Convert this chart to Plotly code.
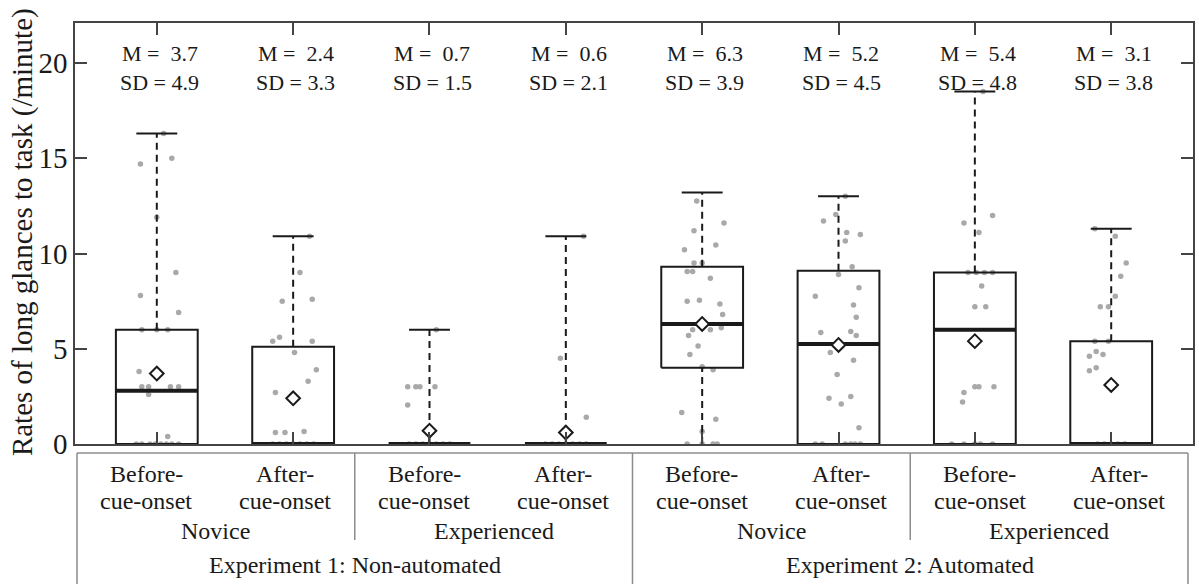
import plotly.graph_objects as go

# ---- data ---------------------------------------------------------------
positions = [1, 2, 3, 4, 5, 6, 7, 8]
phase_top = ["Before-", "After-", "Before-", "After-", "Before-", "After-", "Before-", "After-"]
phase_bottom = ["cue-onset"] * 8
groups = ["Novice", "Experienced", "Novice", "Experienced"]
experiments = ["Experiment 1: Non-automated", "Experiment 2: Automated"]

q1 = [0, 0, 0, 0, 4.0, 0, 0, 0]
medians = [2.8, 0, 0, 0, 6.3, 5.25, 6.0, 0]
q3 = [6.0, 5.1, 0, 0, 9.3, 9.1, 9.0, 5.4]
whisker_lo = [0, 0, 0, 0, 0, 0, 0, 0]
whisker_hi = [16.3, 10.9, 6.0, 10.9, 13.2, 13.0, 18.5, 11.3]
means = [3.7, 2.4, 0.7, 0.6, 6.3, 5.2, 5.4, 3.1]
sds = [4.9, 3.3, 1.5, 2.1, 3.9, 4.5, 4.8, 3.8]

# individual participants: (horizontal jitter, rate)
points = [
    [(-0.12, 7.8), (0.16, 6.9), (-0.11, 6.0), (0.08, 6.0), (0.0, 6.0), (-0.13, 3.8),
     (-0.11, 3.0), (-0.06, 3.0), (-0.06, 2.6), (0.10, 3.0), (0.16, 3.0), (0.08, 0.4),
     (-0.12, 14.7), (0.11, 15.0), (0.14, 9.0), (0.05, 16.3), (0.0, 11.9),
     (-0.15, 0), (-0.11, 0), (-0.05, 0), (-0.01, 0), (0.03, 0), (0.07, 0), (0.11, 0), (0.16, 0)],
    [(-0.08, 7.5), (0.14, 7.6), (-0.15, 5.4), (-0.10, 5.6), (0.14, 5.4), (0.01, 4.8),
     (0.17, 3.9), (0.11, 3.3), (-0.13, 2.7), (-0.13, 0.6), (-0.06, 0.6), (0.08, 0.65),
     (0.05, 9.0), (0.12, 10.9),
     (-0.15, 0), (-0.10, 0), (-0.05, 0), (0.0, 0), (0.05, 0), (0.10, 0), (0.15, 0)],
    [(-0.16, 3.0), (-0.10, 3.0), (-0.07, 3.0), (0.04, 3.0), (-0.16, 2.05), (0.05, 6.0),
     (-0.15, 0), (-0.10, 0), (-0.05, 0), (0.0, 0), (0.05, 0), (0.10, 0), (0.15, 0)],
    [(-0.04, 4.5), (0.15, 1.4), (0.13, 10.9),
     (-0.15, 0), (-0.10, 0), (-0.05, 0), (0.0, 0), (0.05, 0), (0.10, 0), (0.15, 0)],
    [(-0.04, 12.75), (0.16, 11.6), (-0.06, 11.2), (0.10, 10.45), (-0.13, 10.2), (-0.06, 9.5),
     (0.0, 9.5), (-0.11, 9.05), (-0.07, 9.05), (0.06, 8.7), (-0.11, 7.5), (-0.02, 7.55),
     (0.13, 7.35), (0.15, 6.8), (0.06, 6.0), (0.14, 6.1), (-0.07, 6.0), (-0.10, 5.7),
     (-0.03, 5.15), (-0.09, 4.7), (0.0, 4.05), (0.08, 3.9), (-0.15, 1.65), (0.10, 1.3),
     (0.0, 0.65), (-0.11, 0), (0.0, 0), (0.08, 0), (0.11, 0)],
    [(0.05, 13.0), (-0.02, 12.05), (-0.11, 11.7), (0.06, 11.1), (0.16, 11.0), (0.05, 10.65),
     (0.10, 9.3), (0.0, 8.9), (0.15, 8.2), (-0.17, 7.75), (0.11, 7.3), (0.13, 6.65),
     (-0.13, 5.85), (0.09, 5.9), (0.13, 5.7), (-0.06, 4.8), (0.11, 4.4), (-0.01, 3.65),
     (-0.07, 2.4), (0.09, 2.5), (0.02, 2.1), (0.15, 0.85),
     (-0.17, 0), (-0.12, 0), (0.05, 0), (0.09, 0), (0.12, 0), (0.16, 0)],
    [(-0.08, 11.6), (0.13, 12.0), (0.03, 11.1), (-0.05, 9.0), (0.01, 9.0), (0.07, 9.0),
     (0.13, 9.0), (0.05, 8.3), (0.0, 7.2), (0.08, 7.2), (0.0, 3.0), (0.03, 3.0),
     (0.14, 3.0), (-0.08, 2.7), (-0.09, 2.2), (0.06, 18.5),
     (-0.17, 0), (-0.08, 0), (0.0, 0), (0.04, 0), (0.13, 0)],
    [(0.03, 10.9), (0.11, 9.5), (0.07, 8.8), (0.03, 7.75), (-0.08, 7.2), (-0.02, 7.2),
     (-0.12, 5.4), (-0.02, 5.4), (-0.16, 4.6), (-0.11, 4.85), (-0.06, 4.7), (-0.16, 3.85),
     (-0.11, 4.0), (-0.12, 11.3),
     (-0.10, 0), (-0.05, 0), (0.0, 0), (0.05, 0), (0.10, 0)],
]

# ---- style --------------------------------------------------------------
SERIF = "Liberation Serif"
INK = "#1a1a1a"
FRAME = "#444444"
RULE = "#8c8c8c"
BOX_HALF = 0.30
CAP_HALF = 0.15
X_RANGE = [0.4, 8.6]
Y_RANGE = [0, 22.1]

fig = go.Figure()

# jittered participant values
px, py = [], []
for pos, grp in zip(positions, points):
    for off, val in grp:
        px.append(pos + off)
        py.append(val)
fig.add_trace(go.Scatter(x=px, y=py, mode="markers",
                         marker=dict(color="#a9a9a9", size=5.5, line=dict(width=0)),
                         hoverinfo="skip"))

# dashed whiskers
wx, wy = [], []
for pos, lo, a, b, hi in zip(positions, whisker_lo, q1, q3, whisker_hi):
    if hi > b:
        wx += [pos, pos, None]
        wy += [b, hi, None]
    if a > lo:
        wx += [pos, pos, None]
        wy += [lo, a, None]
fig.add_trace(go.Scatter(x=wx, y=wy, mode="lines",
                         line=dict(color=INK, width=2, dash="7px,5px"), hoverinfo="skip"))

# whisker caps
cx, cy = [], []
for pos, hi in zip(positions, whisker_hi):
    cx += [pos - CAP_HALF, pos + CAP_HALF, None]
    cy += [hi, hi, None]
fig.add_trace(go.Scatter(x=cx, y=cy, mode="lines",
                         line=dict(color=INK, width=2), hoverinfo="skip"))

# boxes (inter-quartile range)
bx, by = [], []
for pos, a, b in zip(positions, q1, q3):
    if b > a:
        bx += [pos - BOX_HALF, pos + BOX_HALF, pos + BOX_HALF, pos - BOX_HALF, pos - BOX_HALF, None]
        by += [a, a, b, b, a, None]
fig.add_trace(go.Scatter(x=bx, y=by, mode="lines",
                         line=dict(color=INK, width=2), hoverinfo="skip"))

# medians
mx, my = [], []
for pos, m in zip(positions, medians):
    mx += [pos - BOX_HALF, pos + BOX_HALF, None]
    my += [m, m, None]
fig.add_trace(go.Scatter(x=mx, y=my, mode="lines",
                         line=dict(color=INK, width=4), hoverinfo="skip", cliponaxis=False))

# means
fig.add_trace(go.Scatter(x=positions, y=means, mode="markers",
                         marker=dict(symbol="diamond", size=10.5, color="white",
                                     line=dict(color=INK, width=2)),
                         hoverinfo="skip", cliponaxis=False))

# M / SD labels above each box
lfont = dict(family=SERIF, size=22, color=INK)
annotations = []
for pos, m, s in zip(positions, means, sds):
    annotations.append(dict(x=pos + 0.02, y=20.5, xref="x", yref="y", showarrow=False,
                            xanchor="center", yanchor="middle",
                            text=f"M =\u00a0\u00a0{m:.1f}", font=lfont))
    annotations.append(dict(x=pos + 0.02, y=19.0, xref="x", yref="y", showarrow=False,
                            xanchor="center", yanchor="middle",
                            text=f"SD = {s:.1f}", font=lfont))

# ---- category table under the axis --------------------------------------
T_LEFT, T_RIGHT = 0.0018, 0.9955
T_W = T_RIGHT - T_LEFT


def tcol(frac):
    return T_LEFT + T_W * frac


plot_h = 584 - 23 - 140


def ypix(pix):
    return (444 - pix) / plot_h


shapes = [
    dict(type="line", xref="paper", yref="paper", x0=T_LEFT, x1=T_RIGHT,
         y0=ypix(453), y1=ypix(453), line=dict(color=RULE, width=1.5)),
]
for frac, bottom in [(0, 600), (0.25, 540), (0.5, 600), (0.75, 540), (1.0, 600)]:
    shapes.append(dict(type="line", xref="paper", yref="paper", x0=tcol(frac), x1=tcol(frac),
                       y0=ypix(453), y1=ypix(bottom), line=dict(color=RULE, width=1.5)))

tfont = dict(family=SERIF, size=24, color=INK)


def table_text(xc, ypx, txt):
    return dict(x=xc, y=ypix(ypx), xref="paper", yref="paper", showarrow=False,
                xanchor="center", yanchor="middle", text=txt, font=tfont)


for i in range(8):
    xc = tcol((2 * i + 1) / 16)
    annotations.append(table_text(xc, 474, phase_top[i]))
    annotations.append(table_text(xc, 501, phase_bottom[i]))
for i, g in enumerate(groups):
    annotations.append(table_text(tcol((2 * i + 1) / 8), 531, g))
for i, e in enumerate(experiments):
    annotations.append(table_text(tcol((2 * i + 1) / 4), 565, e))

# y-axis title
annotations.append(dict(x=(22 - 75) / 1120, y=ypix(232), xref="paper", yref="paper",
                        showarrow=False, textangle=-90, xanchor="center", yanchor="middle",
                        text="Rates of long glances to task (/minute)",
                        font=dict(family=SERIF, size=29, color=INK)))

fig.update_layout(
    width=1199, height=584, autosize=False,
    margin=dict(l=75, r=4, t=23, b=140, pad=0),
    paper_bgcolor="white", plot_bgcolor="white",
    showlegend=False,
    shapes=shapes,
    annotations=annotations,
    xaxis=dict(range=X_RANGE, tickvals=positions, showticklabels=False,
               ticks="inside", ticklen=12, tickwidth=1.5, tickcolor=FRAME,
               showline=True, linecolor=FRAME, linewidth=1.5, mirror="ticks",
               showgrid=False, zeroline=False),
    yaxis=dict(range=Y_RANGE, tickvals=[0, 5, 10, 15, 20],
               ticks="inside", ticklen=12, tickwidth=1.5, tickcolor=FRAME,
               showline=True, linecolor=FRAME, linewidth=1.5, mirror="ticks",
               showgrid=False, zeroline=False,
               tickfont=dict(family=SERIF, size=29, color=INK)),
)

fig.write_html("out.html")
